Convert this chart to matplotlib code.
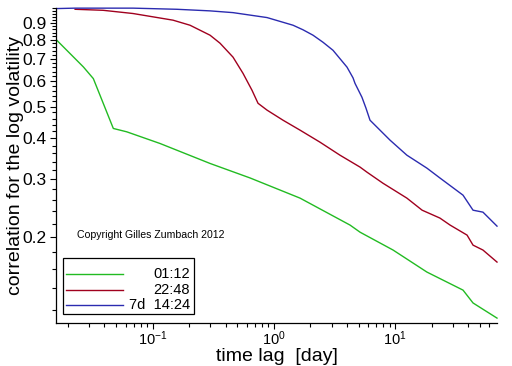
import numpy as np
import matplotlib
matplotlib.use("Agg")
import matplotlib.pyplot as plt
from matplotlib.ticker import FixedLocator, FixedFormatter, LogLocator, NullFormatter
from matplotlib.patches import Rectangle

plt.rcParams['font.family'] = ['Liberation Sans', 'DejaVu Sans']
plt.rcParams['mathtext.fontset'] = 'custom'
plt.rcParams['mathtext.rm'] = 'Liberation Sans'
plt.rcParams['mathtext.it'] = 'Liberation Sans'

# ---- data ----
green_lag = [0.0162, 0.0269, 0.0325, 0.0475, 0.0613, 0.1153, 0.298, 0.637, 1.644,
             4.25, 5.14, 9.62, 18.3, 36.3, 43.9, 69.2]
green_corr = [0.798, 0.661, 0.609, 0.429, 0.419, 0.386, 0.3355, 0.303, 0.263,
              0.2176, 0.207, 0.1826, 0.1564, 0.1378, 0.1259, 0.1132]

red_lag = [0.0230, 0.0391, 0.069, 0.1476, 0.2037, 0.298, 0.360, 0.461, 0.557, 0.661,
           0.741, 0.879, 1.191, 1.644, 2.40, 3.51, 5.14, 5.86, 7.94, 12.5, 16.7,
           23.4, 28.4, 39.2, 43.9, 53.0, 69.2]
red_corr = [0.991, 0.984, 0.962, 0.918, 0.886, 0.826, 0.781, 0.708, 0.632, 0.561,
            0.512, 0.488, 0.4546, 0.424, 0.3897, 0.3556, 0.327, 0.3156, 0.292, 0.263,
            0.2416, 0.2286, 0.2176, 0.2028, 0.189, 0.1826, 0.1678]

blue_lag = [0.0162, 0.0230, 0.069, 0.159, 0.298, 0.461, 0.879, 1.44, 1.741, 2.105,
            2.545, 3.076, 4.013, 4.50, 4.67, 5.33, 5.75, 6.21, 9.08, 12.5, 18.3, 23.4,
            36.3, 43.9, 53.0, 69.2]
blue_corr = [0.996, 0.999, 0.999, 0.991, 0.980, 0.968, 0.935, 0.886, 0.858, 0.826,
             0.786, 0.743, 0.660, 0.612, 0.589, 0.534, 0.495, 0.4546, 0.3952, 0.3556,
             0.3246, 0.303, 0.2685, 0.2416, 0.2383, 0.216]

legend_labels = ["01:12", "22:48", "7d  14:24"]
colors = ["#22bb22", "#a0001e", "#2b2bb0"]

y_major = [0.2, 0.3, 0.4, 0.5, 0.6, 0.7, 0.8, 0.9]
y_major_labels = ["0.2", "0.3", "0.4", "0.5", "0.6", "0.7", "0.8", "0.9"]
y_minor = [round(v, 2) for v in np.arange(0.12, 1.001, 0.02)]

fig = plt.figure(figsize=(5.12, 3.66), dpi=100)
ax = fig.add_axes([56/512, 1 - 322.7/366, (497-56)/512, (322.7-8)/366])

series = [(green_lag, green_corr), (red_lag, red_corr), (blue_lag, blue_corr)]
for (lx, ly), c in zip(series, colors):
    ax.plot(lx, ly, color=c, lw=1.0, clip_on=False)

ax.set_xscale('log')
ax.set_yscale('log')
ax.set_xlim(0.016, 69.2)
ax.set_ylim(0.1096, 1.0)

ax.yaxis.set_major_locator(FixedLocator(y_major))
ax.yaxis.set_major_formatter(FixedFormatter(y_major_labels))
ax.yaxis.set_minor_locator(FixedLocator(y_minor))
ax.yaxis.set_minor_formatter(NullFormatter())
ax.xaxis.set_major_locator(LogLocator(base=10, numticks=10))
ax.xaxis.set_minor_locator(LogLocator(base=10, subs=np.arange(2, 10), numticks=20))
ax.xaxis.set_minor_formatter(NullFormatter())

for s in ['top', 'right']:
    ax.spines[s].set_visible(False)
for s in ['left', 'bottom']:
    ax.spines[s].set_linewidth(0.9)

ax.tick_params(which='major', direction='out', length=4.5, width=0.8, labelsize=12.5, pad=2)
ax.tick_params(which='minor', direction='out', length=2.8, width=0.8)
ax.tick_params(axis='x', which='major', labelsize=10.5, pad=0.5)

ax.set_ylabel("correlation for the log volatility", fontsize=14)
ax.yaxis.set_label_coords(-0.073, 0.5)
ax.set_xlabel("time lag  [day]", fontsize=14)
ax.xaxis.set_label_coords(0.5, -0.079)

ax.text(0.0476, 0.279, "Copyright Gilles Zumbach 2012", transform=ax.transAxes,
        fontsize=7.6, ha='left', va='center')

# legend box
ax.add_patch(Rectangle((0.0152, 0.0276), 0.298, 0.178, transform=ax.transAxes,
                       fill=False, ec='black', lw=0.9, clip_on=False))
for yy, lab, c in zip([0.1538, 0.1039, 0.0553], legend_labels, colors):
    ax.plot([0.0227, 0.151], [yy, yy], transform=ax.transAxes, color=c, lw=1.0, clip_on=False)
    ax.text(0.304, yy, lab, transform=ax.transAxes, fontsize=10.5, ha='right', va='center')

fig.savefig("out.png", dpi=100)
